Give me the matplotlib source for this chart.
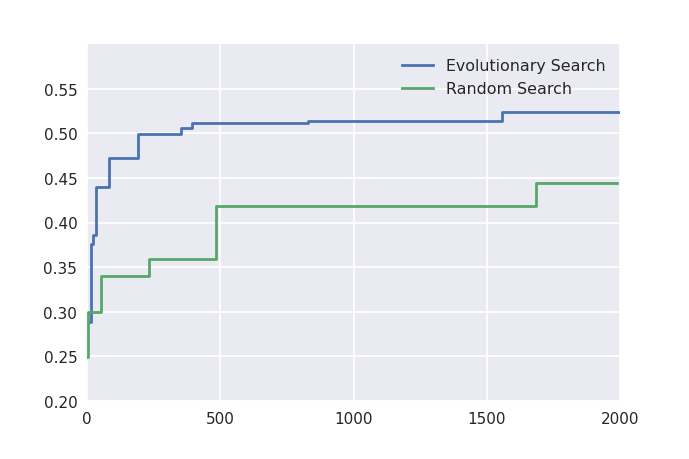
import matplotlib
matplotlib.use('Agg')
import matplotlib.pyplot as plt

# ── Data ─────────────────────────────────────────────────────────────────────
evo_x = [8, 15, 24, 34, 84, 190, 193, 353, 395, 830, 1556, 2000]
evo_y = [0.289, 0.376, 0.3855, 0.440, 0.472, 0.475, 0.499, 0.506, 0.511,
         0.514, 0.5236, 0.5236]

rand_x = [1, 3, 51, 233, 483, 1685, 1988]
rand_y = [0.249, 0.300, 0.340, 0.359, 0.419, 0.4447, 0.4447]

x_ticks = [0, 500, 1000, 1500, 2000]
y_ticks = [0.20, 0.25, 0.30, 0.35, 0.40, 0.45, 0.50, 0.55]

# ── Style: old seaborn darkgrid look ─────────────────────────────────────────
TEXT = '#262626'
plt.rcParams.update({
    'font.family': 'DejaVu Sans',
    'font.size': 11,
    'text.color': TEXT,
    'xtick.color': TEXT,
    'ytick.color': TEXT,
})

fig = plt.figure(figsize=(6.89, 4.60), dpi=100)
ax = fig.add_axes([87 / 689, 1 - 402 / 460, (620 - 87) / 689, (402 - 45) / 460])
ax.set_facecolor('#EAEAF2')
for s in ax.spines.values():
    s.set_visible(False)
ax.grid(True, color='white', linewidth=1.3)
ax.set_axisbelow(True)

ax.step(evo_x, evo_y, where='post', color='#4C72B0', lw=2,
        label='Evolutionary Search')
ax.step(rand_x, rand_y, where='post', color='#55A868', lw=2,
        label='Random Search')

ax.set_xlim(0, 2000)
ax.set_ylim(0.20, 0.60)
ax.set_xticks(x_ticks)
ax.set_yticks(y_ticks)
ax.set_yticklabels([f'{v:.2f}' for v in y_ticks])
ax.tick_params(length=0, pad=7, labelsize=11)

ax.legend(loc='upper right', frameon=False, fontsize=11.4, handlelength=2.0,
          handletextpad=0.8)

fig.savefig('out.png', dpi=100)
